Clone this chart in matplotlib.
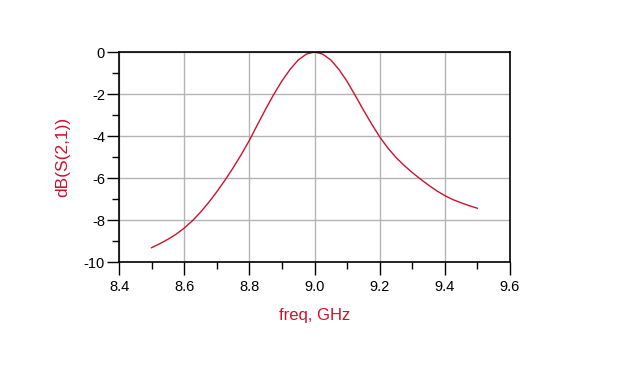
import matplotlib
matplotlib.use("Agg")
import matplotlib.pyplot as plt
from matplotlib.ticker import MultipleLocator

plt.rcParams['font.family'] = ['Liberation Sans', 'DejaVu Sans']

# 读取的曲线数据 (freq in GHz, dB(S(2,1)))
freq = [8.50, 8.525, 8.55, 8.575, 8.60, 8.625, 8.65, 8.675, 8.70, 8.725,
        8.75, 8.775, 8.80, 8.825, 8.85, 8.875, 8.90, 8.925, 8.95, 8.975,
        9.00, 9.025, 9.05, 9.075, 9.10, 9.125, 9.15, 9.175, 9.20, 9.225,
        9.25, 9.275, 9.30, 9.325, 9.35, 9.375, 9.40, 9.425, 9.45, 9.475, 9.50]
s21_db = [-9.32, -9.13, -8.92, -8.68, -8.39, -8.04, -7.63, -7.17, -6.66, -6.11,
          -5.52, -4.89, -4.21, -3.46, -2.72, -2.02, -1.38, -0.83, -0.38, -0.10,
          0.00, -0.10, -0.38, -0.83, -1.40, -2.07, -2.76, -3.42, -4.04, -4.57,
          -5.02, -5.40, -5.74, -6.05, -6.34, -6.61, -6.84, -7.03, -7.18, -7.32, -7.44]

x_ticks = [8.4, 8.6, 8.8, 9.0, 9.2, 9.4, 9.6]
y_ticks = [0, -2, -4, -6, -8, -10]

red = '#d0102e'

fig = plt.figure(figsize=(6.4, 3.84), dpi=100)
ax = fig.add_axes([119 / 640, 1 - 262 / 384, 391 / 640, 210 / 384])

ax.plot(freq, s21_db, color=red, lw=1.0)

ax.set_xlim(8.4, 9.6)
ax.set_ylim(-10, 0)
ax.set_xticks(x_ticks)
ax.set_xticklabels(['%.1f' % v for v in x_ticks])
ax.set_yticks(y_ticks)
ax.set_yticklabels(['%d' % v for v in y_ticks])
ax.xaxis.set_minor_locator(MultipleLocator(0.1))
ax.yaxis.set_minor_locator(MultipleLocator(1))

ax.grid(True, which='major', color='#b4b4b4', lw=1.0)
ax.set_axisbelow(True)
for sp in ax.spines.values():
    sp.set_color('black')
    sp.set_linewidth(1.2)

ax.tick_params(which='major', direction='out', length=9, width=1, colors='black',
               labelsize=10.5)
ax.tick_params(which='minor', direction='out', length=5, width=1, colors='black')
ax.tick_params(axis='x', which='major', pad=4)
ax.tick_params(axis='y', which='major', pad=1)

ax.set_xlabel('freq, GHz', color=red, fontsize=12, labelpad=10)
ax.set_ylabel('dB(S(2,1))', color=red, fontsize=12.5, labelpad=10)

fig.savefig('out.png', dpi=100)
